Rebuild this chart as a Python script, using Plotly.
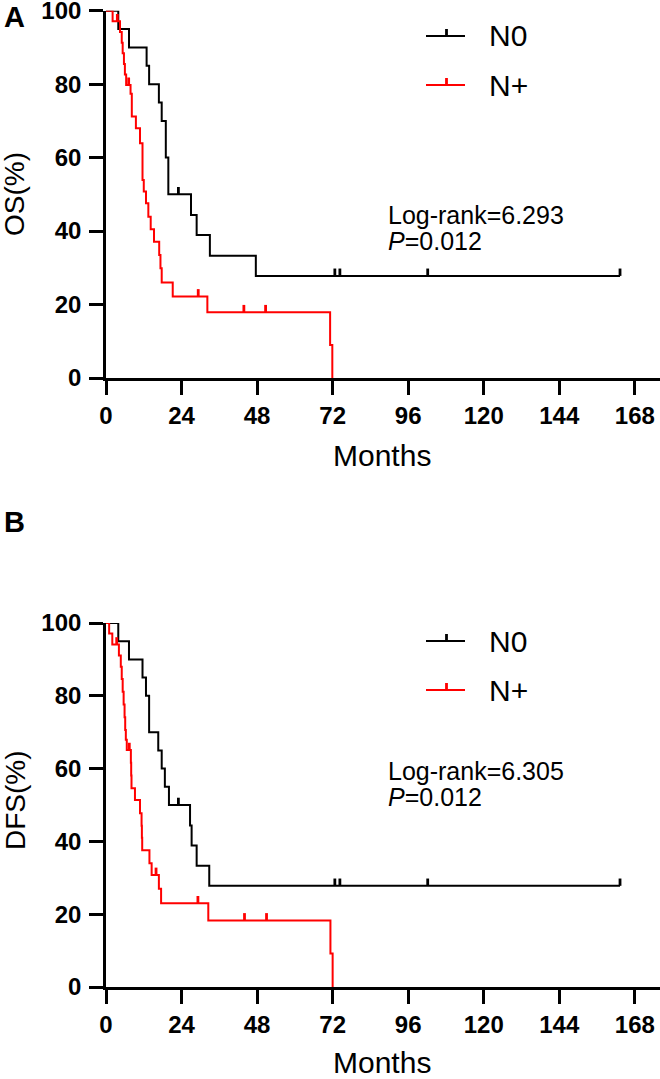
import plotly.graph_objects as go

# ---------------- data ----------------
months_ticks = [0, 24, 48, 72, 96, 120, 144, 168]
pct_ticks = [0, 20, 40, 60, 80, 100]

# OS, N0 (black)
os_n0_t = [0, 3.9, 7.3, 12.9, 13.7, 16.8, 17.7, 19.0, 19.8, 27.0, 28.8, 33.0, 47.6, 163.3]
os_n0_s = [100, 95, 90, 85, 80, 75, 70, 60, 50, 44.4, 38.9, 33.3, 27.8, 27.8]
os_n0_cens_t = [23.0, 72.7, 74.3, 102.2, 163.3]
os_n0_cens_s = [50, 27.8, 27.8, 27.8, 27.8]

# OS, N+ (red)
os_np_t = [0, 2.1, 4.45, 5.0, 5.3, 5.7, 6.0, 6.4, 7.8, 8.2, 9.5, 10.8, 11.6, 12.0, 12.7,
           13.45, 14.2, 15.25, 16.9, 17.3, 17.7, 21.2, 32.2, 71.2, 71.9]
os_np_s = [100, 97.1, 94.2, 91.3, 88.4, 85.5, 82.6, 79.8, 77.4, 71.2, 68.0, 63.9, 53.9, 50.8, 47.6,
           43.9, 40.5, 37.1, 33.5, 29.9, 26.0, 22.2, 17.9, 9.0, 0]
os_np_cens_t = [3.6, 7.2, 29.3, 43.8, 50.7]
os_np_cens_s = [97.1, 79.8, 22.2, 17.9, 17.9]

# DFS, N0 (black)
dfs_n0_t = [0, 3.9, 7.3, 11.6, 12.7, 13.7, 16.6, 17.7, 18.7, 20.0, 26.7, 27.2, 28.8, 32.8, 163.3]
dfs_n0_s = [100, 95, 90, 85, 80, 70, 65, 60, 55, 50, 44.4, 38.9, 33.3, 27.8, 27.8]
dfs_n0_cens_t = [23.0, 72.7, 74.3, 102.2, 163.3]
dfs_n0_cens_s = [50, 27.8, 27.8, 27.8, 27.8]

# DFS, N+ (red)
dfs_np_t = [0, 1.0, 2.0, 4.1, 4.7, 5.0, 5.3, 5.6, 5.9, 6.1, 6.3, 6.6, 7.9, 8.0, 8.1, 9.2, 10.8,
            11.3, 11.4, 11.5, 13.8, 14.5, 16.8, 17.5, 32.5, 71.3, 72.0]
dfs_np_s = [100, 97.1, 94.1, 91.1, 88.0, 84.6, 81.1, 77.6, 74.1, 70.6, 67.9, 65.1, 61.6, 58.1, 54.6,
            51.4, 47.7, 44.3, 41.0, 37.6, 34.0, 30.8, 27.0, 23.0, 18.3, 9.2, 0]
dfs_np_cens_t = [3.4, 7.4, 15.9, 29.2, 44.0, 51.0]
dfs_np_cens_s = [94.1, 65.1, 30.8, 23.0, 18.3, 18.3]

os_stat = ["Log-rank=6.293", "0.012"]
dfs_stat = ["Log-rank=6.305", "0.012"]
group_names = ["N0", "N+"]
colors = ["#000000", "#FF0000"]

# ---------------- layout helpers ----------------
W, H = 660, 1079
FONT = "Liberation Sans, Arial, sans-serif"


def px(x):
    return x / W


def py(y):
    return 1 - y / H


fig = go.Figure()


def add_curve(t, s, ct, cs, color, xa, ya):
    fig.add_trace(go.Scatter(x=t, y=s, mode="lines", line=dict(color=color, width=2, shape="hv"),
                             cliponaxis=False, xaxis=xa, yaxis=ya, showlegend=False, hoverinfo="skip"))
    fig.add_trace(go.Scatter(x=ct, y=cs, mode="markers", marker=dict(size=1, color=color, opacity=0),
                             error_y=dict(type="data", symmetric=False, array=[2.0] * len(ct),
                                          arrayminus=[0] * len(ct), width=0, thickness=2.8, color=color),
                             cliponaxis=False, xaxis=xa, yaxis=ya, showlegend=False, hoverinfo="skip"))


add_curve(os_n0_t, os_n0_s, os_n0_cens_t, os_n0_cens_s, colors[0], "x", "y")
add_curve(os_np_t, os_np_s, os_np_cens_t, os_np_cens_s, colors[1], "x", "y")
add_curve(dfs_n0_t, dfs_n0_s, dfs_n0_cens_t, dfs_n0_cens_s, colors[0], "x2", "y2")
add_curve(dfs_np_t, dfs_np_s, dfs_np_cens_t, dfs_np_cens_s, colors[1], "x2", "y2")

xdom = [px(106), 1.0]
ydom_top = [py(378), py(10.7)]
ydom_bot = [py(987), py(623)]

ax_common = dict(showline=True, linewidth=2.6, linecolor="black", ticks="outside", ticklen=14,
                 tickwidth=2.6, tickcolor="black", showgrid=False, zeroline=False, automargin=False,
                 ticklabeloverflow="allow",
                 tickfont=dict(family=FONT, size=24, color="black", weight="bold"))

fig.update_layout(
    width=W, height=H, margin=dict(l=0, r=0, t=0, b=0, autoexpand=False),
    paper_bgcolor="white", plot_bgcolor="white", showlegend=False,
    xaxis=dict(domain=xdom, range=[0, 176], tickvals=months_ticks, anchor="y", **ax_common),
    yaxis=dict(domain=ydom_top, range=[0, 100], tickvals=pct_ticks, anchor="x",
               ticklabelstandoff=3, **ax_common),
    xaxis2=dict(domain=xdom, range=[0, 176], tickvals=months_ticks, anchor="y2", **ax_common),
    yaxis2=dict(domain=ydom_bot, range=[0, 100], tickvals=pct_ticks, anchor="x2",
                ticklabelstandoff=3, **ax_common),
)

ann = []
shapes = []


def text(x, y, s, size, bold=False, xanchor="center", angle=0):
    ann.append(dict(x=px(x), y=py(y), xref="paper", yref="paper", text=s, showarrow=False,
                    xanchor=xanchor, yanchor="middle", textangle=angle,
                    font=dict(family=FONT, size=size, color="black", weight="bold" if bold else "normal")))


# panel letters
text(2, 17, "A", 29, bold=True, xanchor="left")
text(2, 522, "B", 29, bold=True, xanchor="left")
# axis titles
text(15, 194, "OS(%)", 28, angle=-90)
text(15, 800, "DFS(%)", 28, angle=-90)
text(382, 455, "Months", 30)
text(382, 1062, "Months", 30)
# stats
text(386, 215, os_stat[0], 25, xanchor="left")
text(386, 241, "<i>P</i>=" + os_stat[1], 25, xanchor="left")
text(386, 771, dfs_stat[0], 25, xanchor="left")
text(386, 797, "<i>P</i>=" + dfs_stat[1], 25, xanchor="left")

# legends
for ly_n0, ly_np in [(36, 85), (641, 690)]:
    for ly, name, col in [(ly_n0, group_names[0], colors[0]), (ly_np, group_names[1], colors[1])]:
        shapes.append(dict(type="line", xref="paper", yref="paper", x0=px(426), x1=px(465),
                           y0=py(ly), y1=py(ly), line=dict(color=col, width=2)))
        shapes.append(dict(type="line", xref="paper", yref="paper", x0=px(446.5), x1=px(446.5),
                           y0=py(ly), y1=py(ly - 7), line=dict(color=col, width=2.8)))
        text(487, ly, name, 30, xanchor="left")

fig.update_layout(annotations=ann, shapes=shapes)
fig.write_html("out.html", config={"displayModeBar": False},
               post_script="document.body.style.margin='0px';")
